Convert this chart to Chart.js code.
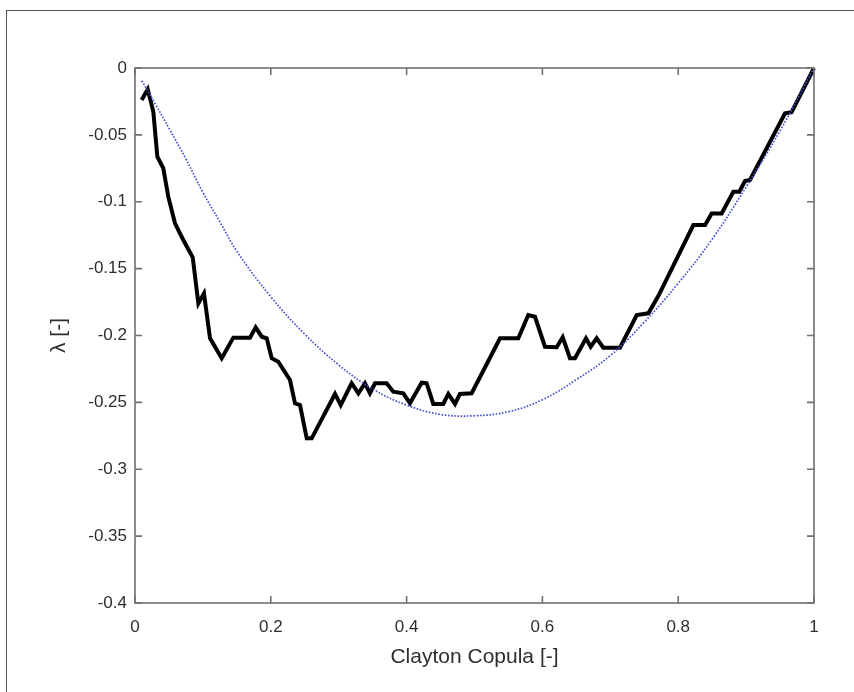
<!DOCTYPE html>
<html>
<head>
<meta charset="utf-8">
<script src="https://cdn.jsdelivr.net/npm/chart.js@4.4.1/dist/chart.umd.min.js"></script>
<style>
  body { margin: 0; background: #fff; }
  #wrap { position: relative; width: 854px; height: 692px; overflow: hidden; }
  #frame { position: absolute; left: 6px; top: 10px; width: 900px; height: 800px;
           border-top: 1px solid #555; border-left: 1px solid #555; }
  canvas { position: absolute; left: 0; top: 0; }
</style>
</head>
<body>
<div id="wrap">
  <div id="frame"></div>
  <canvas id="lambdaChart" width="854" height="692"></canvas>
</div>
<script>
// empirical lambda (black step line)
const empV = [0.0098, 0.0187, 0.027, 0.0329, 0.0417, 0.049, 0.0589, 0.0711, 0.085, 0.0933,
  0.1016, 0.1105, 0.1277, 0.1448, 0.1694, 0.1777, 0.1866, 0.194, 0.2013, 0.211,
  0.2283, 0.2356, 0.243, 0.2529, 0.2602, 0.2946, 0.303, 0.319, 0.329, 0.3387,
  0.346, 0.3535, 0.3706, 0.3804, 0.3951, 0.405, 0.4222, 0.4295, 0.4393, 0.454,
  0.4614, 0.4713, 0.4786, 0.4958, 0.5376, 0.5645, 0.5792, 0.5891, 0.6038, 0.621,
  0.6299, 0.6406, 0.648, 0.6642, 0.6711, 0.6799, 0.6897, 0.7143, 0.7389, 0.756,
  0.7707, 0.8223, 0.8395, 0.8493, 0.864, 0.8812, 0.89, 0.8984, 0.9057, 0.9573,
  0.967, 1.0];
const empL = [-0.0239, -0.0159, -0.0327, -0.0663, -0.075, -0.0962, -0.1161, -0.1286, -0.1415, -0.176,
  -0.1685, -0.2021, -0.217, -0.2016, -0.2016, -0.1939, -0.2009, -0.2021, -0.217, -0.2196,
  -0.2333, -0.2507, -0.252, -0.2769, -0.2769, -0.2437, -0.252, -0.2357, -0.2432, -0.2357,
  -0.2432, -0.2357, -0.2357, -0.242, -0.2432, -0.2507, -0.2353, -0.2357, -0.2512, -0.2512,
  -0.2437, -0.2512, -0.2437, -0.2432, -0.2021, -0.2021, -0.1847, -0.186, -0.2084, -0.2088,
  -0.2013, -0.217, -0.217, -0.2021, -0.2084, -0.2021, -0.2091, -0.2091, -0.1847, -0.1834,
  -0.1705, -0.1174, -0.1174, -0.1087, -0.1087, -0.0925, -0.0925, -0.0845, -0.0837, -0.0339,
  -0.0331, 0];

// Clayton copula lambda (blue dotted curve)
const clayV = [0.01, 0.03, 0.05, 0.075, 0.1, 0.125, 0.15, 0.2, 0.25, 0.3, 0.35, 0.4,
  0.45, 0.5, 0.55, 0.6, 0.65, 0.7, 0.75, 0.8, 0.85, 0.9, 0.95, 1];
const clayL = [-0.0095, -0.027, -0.045, -0.068, -0.093, -0.115, -0.137, -0.171, -0.199, -0.222, -0.24, -0.252,
  -0.259, -0.26, -0.257, -0.248, -0.233, -0.215, -0.19, -0.161, -0.128, -0.089, -0.047, 0];

const xTickVals = [0, 0.2, 0.4, 0.6, 0.8, 1];
const xTickLabels = ["0", "0.2", "0.4", "0.6", "0.8", "1"];
const yTickVals = [0, -0.05, -0.1, -0.15, -0.2, -0.25, -0.3, -0.35, -0.4];
const yTickLabels = ["0", "-0.05", "-0.1", "-0.15", "-0.2", "-0.25", "-0.3", "-0.35", "-0.4"];

const toPoints = (xs, ys) => xs.map((x, i) => ({ x: x, y: ys[i] }));

const axisColor = "#707070";
const textColor = "#2e2e2e";

// MATLAB-like box with inward ticks on all four sides
const boxPlugin = {
  id: "box",
  afterDraw(chart) {
    const { ctx, chartArea: a, scales } = chart;
    const len = 7;
    ctx.save();
    ctx.strokeStyle = axisColor;
    ctx.lineWidth = 1.6;
    ctx.strokeRect(a.left, a.top, a.right - a.left, a.bottom - a.top);
    ctx.beginPath();
    xTickVals.forEach(v => {
      const px = scales.x.getPixelForValue(v);
      ctx.moveTo(px, a.bottom); ctx.lineTo(px, a.bottom - len);
      ctx.moveTo(px, a.top); ctx.lineTo(px, a.top + len);
    });
    yTickVals.forEach(v => {
      const py = scales.y.getPixelForValue(v);
      ctx.moveTo(a.left, py); ctx.lineTo(a.left + len, py);
      ctx.moveTo(a.right, py); ctx.lineTo(a.right - len, py);
    });
    ctx.stroke();
    ctx.restore();
  }
};

new Chart(document.getElementById("lambdaChart"), {
  type: "line",
  data: {
    datasets: [
      {
        label: "Clayton",
        data: toPoints(clayV, clayL),
        borderColor: "rgb(70, 80, 210)",
        borderWidth: 1.7,
        borderDash: [1.6, 1.6],
        pointRadius: 0,
        tension: 0.4,
        fill: false
      },
      {
        label: "Empirical",
        data: toPoints(empV, empL),
        borderColor: "#000",
        borderWidth: 4,
        pointRadius: 0,
        tension: 0,
        fill: false,
        clip: 4
      }
    ]
  },
  options: {
    responsive: false,
    animation: false,
    events: [],
    layout: { padding: { top: 68, right: 40, left: 0, bottom: 0 } },
    plugins: { legend: { display: false }, tooltip: { enabled: false } },
    scales: {
      x: {
        type: "linear",
        min: 0,
        max: 1,
        afterFit: s => { s.height = 89; },
        afterBuildTicks: s => { s.ticks = xTickVals.map(v => ({ value: v })); },
        grid: { display: false, drawTicks: false },
        border: { display: false },
        ticks: {
          padding: 14,
          maxRotation: 0,
          autoSkip: false,
          color: textColor,
          font: { family: "Liberation Sans", size: 17 },
          callback: (v, i) => xTickLabels[i]
        },
        title: {
          display: true,
          text: "Clayton Copula [-]",
          color: textColor,
          font: { family: "Liberation Sans", size: 21 },
          padding: { top: 0, bottom: 22 }
        }
      },
      y: {
        type: "linear",
        min: -0.4,
        max: 0,
        afterFit: s => { s.width = 135; },
        afterBuildTicks: s => { s.ticks = yTickVals.map(v => ({ value: v })); },
        grid: { display: false, drawTicks: false },
        border: { display: false },
        ticks: {
          padding: 8,
          autoSkip: false,
          color: textColor,
          font: { family: "Liberation Sans", size: 17 },
          callback: (v, i) => yTickLabels[i]
        },
        title: {
          display: true,
          text: "λ [-]",
          color: textColor,
          font: { family: "Liberation Sans", size: 21 },
          padding: { top: 47, bottom: 0 }
        }
      }
    }
  },
  plugins: [boxPlugin]
});
</script>
</body>
</html>
